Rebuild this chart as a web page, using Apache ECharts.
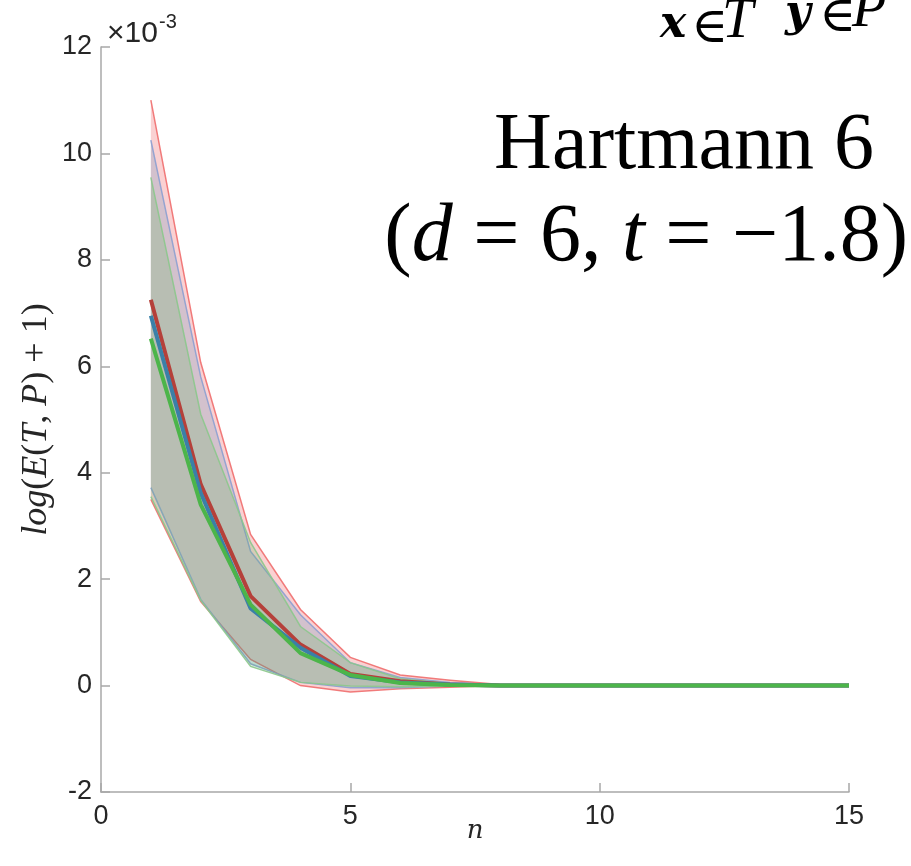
<!DOCTYPE html>
<html>
<head>
<meta charset="utf-8">
<script src="https://cdn.jsdelivr.net/npm/echarts@6/dist/echarts.min.js"></script>
<style>html,body{margin:0;padding:0;background:#fff;}#c{width:911px;height:866px;}</style>
</head>
<body>
<div id="c"></div>
<script>
// values in units of 1e-3
const nVals = [1,2,3,4,5,6,7,8,9,10,11,12,13,14,15];
const redMean   = [7.25, 3.78, 1.68, 0.77, 0.22, 0.08, 0.02, 0.00, 0,0,0,0,0,0,0];
const blueMean  = [6.95, 3.62, 1.45, 0.71, 0.18, 0.06, 0.02, 0.00, 0,0,0,0,0,0,0];
const greenMean = [6.52, 3.40, 1.52, 0.61, 0.20, 0.05, 0.01, 0.00, 0,0,0,0,0,0,0];
const redUpper   = [11.00, 6.07, 2.84, 1.43, 0.53, 0.20, 0.10, 0.02, 0,0,0,0,0,0,0];
const redLower   = [3.50, 1.58, 0.49, 0.00, -0.12, -0.06, -0.03, 0.00, 0,0,0,0,0,0,0];
const blueUpper  = [10.25, 5.80, 2.52, 1.33, 0.43, 0.15, 0.06, 0.01, 0,0,0,0,0,0,0];
const blueLower  = [3.72, 1.62, 0.41, 0.06, -0.04, -0.04, -0.01, 0.00, 0,0,0,0,0,0,0];
const greenUpper = [9.55, 5.10, 2.69, 1.11, 0.43, 0.13, 0.04, 0.01, 0,0,0,0,0,0,0];
const greenLower = [3.55, 1.60, 0.36, 0.06, -0.01, -0.02, -0.01, 0.00, 0,0,0,0,0,0,0];
const xTicks = [0, 5, 10, 15];
const yTicks = [-2, 0, 2, 4, 6, 8, 10, 12];

const chart = echarts.init(document.getElementById('c'));
const pairs = (ys) => nVals.map((x, i) => [x, ys[i]]);

function band(name, up, lo, fill, edge) {
  return {
    name: name, type: 'custom', silent: true, z: 1,
    data: nVals.map((x, i) => [x, up[i], lo[i]]),
    encode: { x: 0, y: [1, 2] },
    renderItem: function (params, api) {
      if (params.dataIndex !== 0) return null;
      const upPts = nVals.map((x, i) => api.coord([x, up[i]]));
      const loPts = nVals.map((x, i) => api.coord([x, lo[i]]));
      const poly = upPts.concat(loPts.slice().reverse());
      return {
        type: 'group',
        children: [
          { type: 'polygon', shape: { points: poly }, style: { fill: fill, stroke: null } },
          { type: 'polyline', shape: { points: upPts }, style: { fill: null, stroke: edge, lineWidth: 1.5 } },
          { type: 'polyline', shape: { points: loPts }, style: { fill: null, stroke: edge, lineWidth: 1.5 } }
        ]
      };
    }
  };
}
function meanLine(name, ys, color) {
  return { name: name, type: 'line', data: pairs(ys), symbol: 'none',
    lineStyle: { color: color, width: 4 }, z: 3, silent: true };
}

const axisCol = '#a8a8a8';
const textCol = '#262626';
const txt = (x, y, t, opts) => ({ type: 'text', x: x, y: y, z: 10,
  style: Object.assign({ text: t, fill: '#000', verticalAlign: 'top' }, opts) });

chart.setOption({
  animation: false,
  grid: { left: 101, right: 62, top: 47, bottom: 74, containLabel: false },
  xAxis: {
    type: 'value', min: 0, max: 15, interval: 5,
    axisLine: { show: true, onZero: false, lineStyle: { color: axisCol, width: 1.5 } },
    axisTick: { show: true, inside: true, length: 9, lineStyle: { color: axisCol, width: 1.5 } },
    axisLabel: { color: textCol, fontSize: 27, fontFamily: 'Liberation Sans', margin: 11,
      formatter: v => xTicks.includes(v) ? String(v) : '' },
    splitLine: { show: false },
    name: '{i|n}', nameLocation: 'middle', nameGap: 26, nameMoveOverlap: false,
    nameTextStyle: { rich: { i: { fontFamily: 'DejaVu Serif', fontStyle: 'italic', fontSize: 26, color: textCol } } }
  },
  yAxis: {
    type: 'value', min: -2, max: 12, interval: 2,
    axisLine: { show: true, onZero: false, lineStyle: { color: axisCol, width: 1.5 } },
    axisTick: { show: true, inside: true, length: 9, lineStyle: { color: axisCol, width: 1.5 } },
    axisLabel: { color: textCol, fontSize: 27, fontFamily: 'Liberation Sans', margin: 9,
      formatter: v => yTicks.includes(v) ? String(v) : '' },
    splitLine: { show: false },
    name: '{i|log}{r|(}{i|E}{r|(}{i|T}{r|, }{i|P}{r|) + 1)}',
    nameLocation: 'middle', nameGap: 46, nameMoveOverlap: false,
    nameTextStyle: { rich: {
      i: { fontFamily: 'Liberation Serif', fontStyle: 'italic', fontSize: 36, color: textCol },
      r: { fontFamily: 'Liberation Serif', fontSize: 36, color: textCol }
    } }
  },
  series: [
    band('redBand', redUpper, redLower, 'rgba(228,26,28,0.2)', 'rgba(240,110,110,0.9)'),
    band('blueBand', blueUpper, blueLower, 'rgba(55,126,184,0.2)', 'rgba(140,160,210,0.9)'),
    band('greenBand', greenUpper, greenLower, 'rgba(77,175,74,0.2)', 'rgba(140,200,140,0.9)'),
    meanLine('redMean', redMean, '#b5403a'),
    meanLine('blueMean', blueMean, '#3a80a8'),
    meanLine('greenMean', greenMean, '#4cb54a')
  ],
  graphic: [
    txt(107, 19, '×10', { fontFamily: 'Liberation Sans', fontSize: 30, fill: textCol }),
    txt(159, 12, '-3', { fontFamily: 'Liberation Sans', fontSize: 20, fill: textCol }),
    txt(874, 107, 'Hartmann 6', { fontFamily: 'Liberation Serif', fontSize: 80, align: 'right' }),
    { type: 'text', x: 908, y: 197, z: 10, style: {
      text: '{r|(}{i|d}{r| = 6, }{i|t}{r| = −1.8)}',
      align: 'right', verticalAlign: 'top',
      rich: {
        r: { fontFamily: 'Liberation Serif', fontSize: 82, fill: '#000' },
        i: { fontFamily: 'Liberation Serif', fontStyle: 'italic', fontSize: 82, fill: '#000' }
      } } },
    txt(660, 4, 'x', { fontFamily: 'DejaVu Serif', fontStyle: 'italic', fontWeight: 'bold', fontSize: 44 }),
    txt(691, 4, '∈', { fontFamily: 'DejaVu Serif', fontSize: 50 }),
    txt(722, -6, 'T', { fontFamily: 'Liberation Serif', fontStyle: 'italic', fontSize: 56 }),
    txt(785, -7, 'y', { fontFamily: 'DejaVu Serif', fontStyle: 'italic', fontWeight: 'bold', fontSize: 44 }),
    txt(819, -7, '∈', { fontFamily: 'DejaVu Serif', fontSize: 50 }),
    txt(852, -17, 'P', { fontFamily: 'Liberation Serif', fontStyle: 'italic', fontSize: 56 })
  ]
});
</script>
</body>
</html>
